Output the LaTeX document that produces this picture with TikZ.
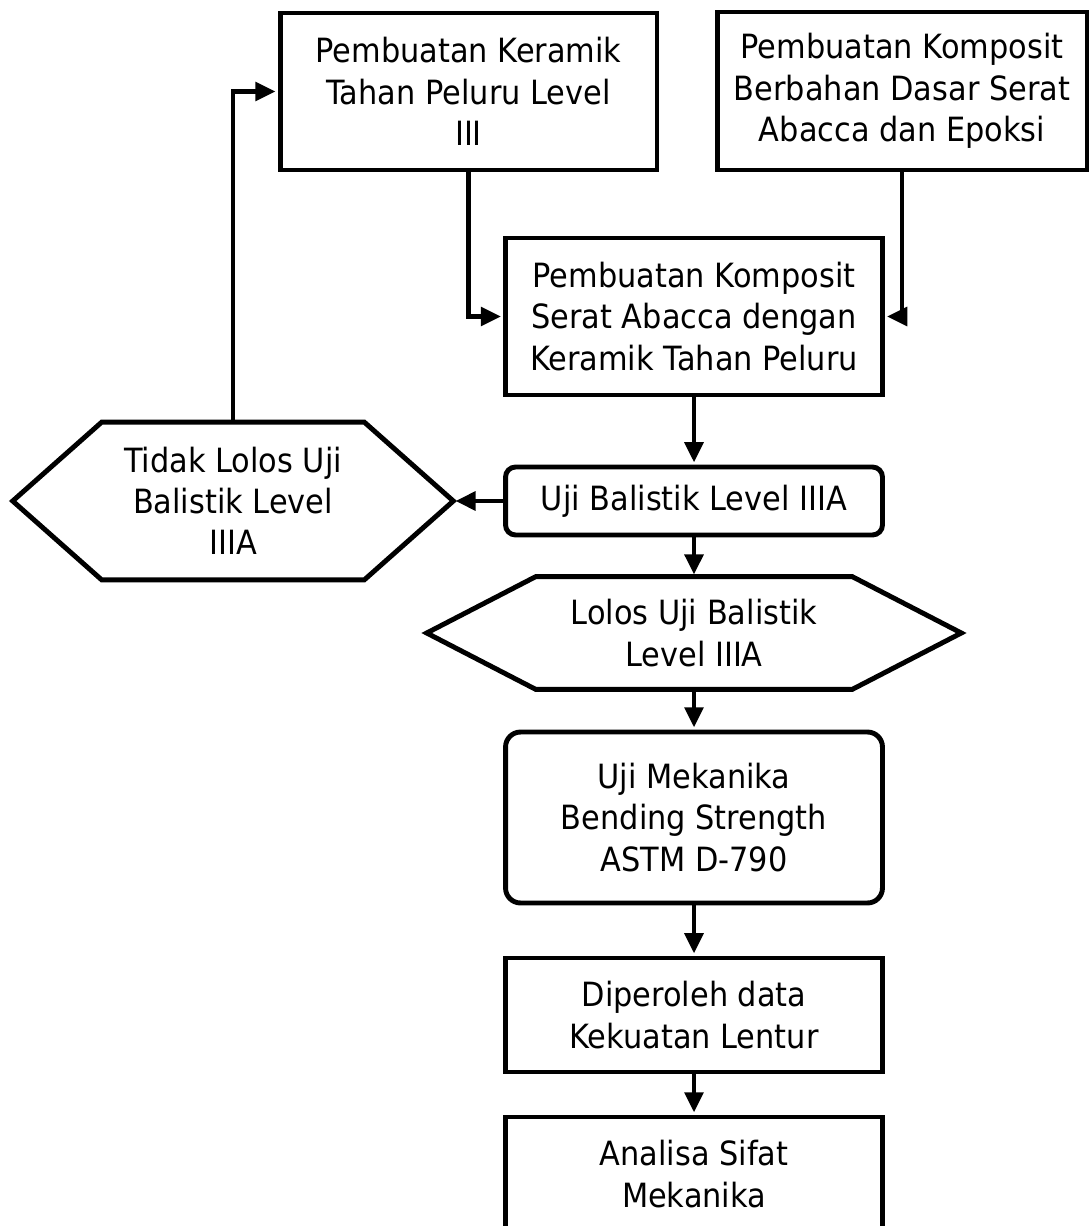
\documentclass[tikz,border=0pt]{standalone}
\usepackage{fontspec}
\setmainfont{DejaVu Sans}[FakeStretch=0.91]
\usepackage{tikz}
\usetikzlibrary{positioning,shapes,arrows.meta}
\tikzstyle{proses}=[rectangle, draw=black, line width=2.8pt, align=center, inner sep=0pt,
        font=\fontsize{19}{23.5}\selectfont, minimum width=7.54cm, minimum height=3.14cm]
\tikzstyle{uji}=[proses, rounded corners=0.2cm, minimum height=1.36cm]
\tikzstyle{keputusan}=[rectangle, draw=none, align=center, inner sep=0pt,
        font=\fontsize{19}{23.5}\selectfont]
\tikzstyle{hexline}=[line width=2.8pt, line join=miter]
\tikzstyle{myarrow}=[-{Triangle[length=11.5pt,width=10.5pt]}, line width=2.7pt, shorten >=1.2pt]

\begin{document}
\begin{tikzpicture}[x=0.02cm, y=-0.02cm]
    \useasboundingbox (0,0) rectangle (1089,1226);
    \node (Keramik) [proses] at (468.5,91.5)
        {Pembuatan Keramik\\Tahan Peluru Level\\III};
    \node (KompositEpoksi) [proses, minimum width=7.4cm, minimum height=3.16cm] at (902,91)
        {Pembuatan Komposit\\Berbahan Dasar Serat\\Abacca dan Epoksi};
    \node (KompositKeramik) [proses] at (694,316.5)
        {Pembuatan Komposit\\Serat Abacca dengan\\Keramik Tahan Peluru};
    \node (Uji) [uji] at (694,501)
        {Uji Balistik Level IIIA};
    \node (Gagal) [keputusan, minimum width=8.8cm, minimum height=3.14cm] at (233,501)
        {Tidak Lolos Uji\\Balistik Level\\IIIA};
    \node (Lolos) [keputusan, minimum width=10.68cm, minimum height=2.24cm] at (694,633)
        {Lolos Uji Balistik\\Level IIIA};
    \node (UjiMekanika) [proses, rounded corners=0.3cm, minimum height=3.42cm] at (694,817.5)
        {Uji Mekanika\\Bending Strength\\ASTM D-790};
    \node (Data) [proses, minimum height=2.28cm] at (694,1015)
        {Diperoleh data\\Kekuatan Lentur};
    \node (Analisa) [proses, minimum height=2.28cm] at (694,1174)
        {Analisa Sifat\\Mekanika};
    \draw[hexline] (Gagal.west) -- ([xshift=1.78cm]Gagal.north west) -- ([xshift=-1.78cm]Gagal.north east)
        -- (Gagal.east) -- ([xshift=-1.78cm]Gagal.south east) -- ([xshift=1.78cm]Gagal.south west) -- cycle;
    \draw[hexline] (Lolos.west) -- ([xshift=2.18cm]Lolos.north west) -- ([xshift=-2.18cm]Lolos.north east)
        -- (Lolos.east) -- ([xshift=-2.18cm]Lolos.south east) -- ([xshift=2.18cm]Lolos.south west) -- cycle;
    \draw[myarrow] (Keramik.south) |- (KompositKeramik.west);
    \draw[myarrow] (KompositEpoksi.south) |- (KompositKeramik.east);
    \draw[myarrow] (KompositKeramik.south) -- (Uji.north);
    \draw[myarrow] (Uji.west) -- (Gagal.east);
    \draw[myarrow] (Gagal.north) |- (Keramik.west);
    \draw[myarrow] (Uji.south) -- (Lolos.north);
    \draw[myarrow] (Lolos.south) -- (UjiMekanika.north);
    \draw[myarrow] (UjiMekanika.south) -- (Data.north);
    \draw[myarrow] (Data.south) -- (Analisa.north);
\end{tikzpicture}
\end{document}
